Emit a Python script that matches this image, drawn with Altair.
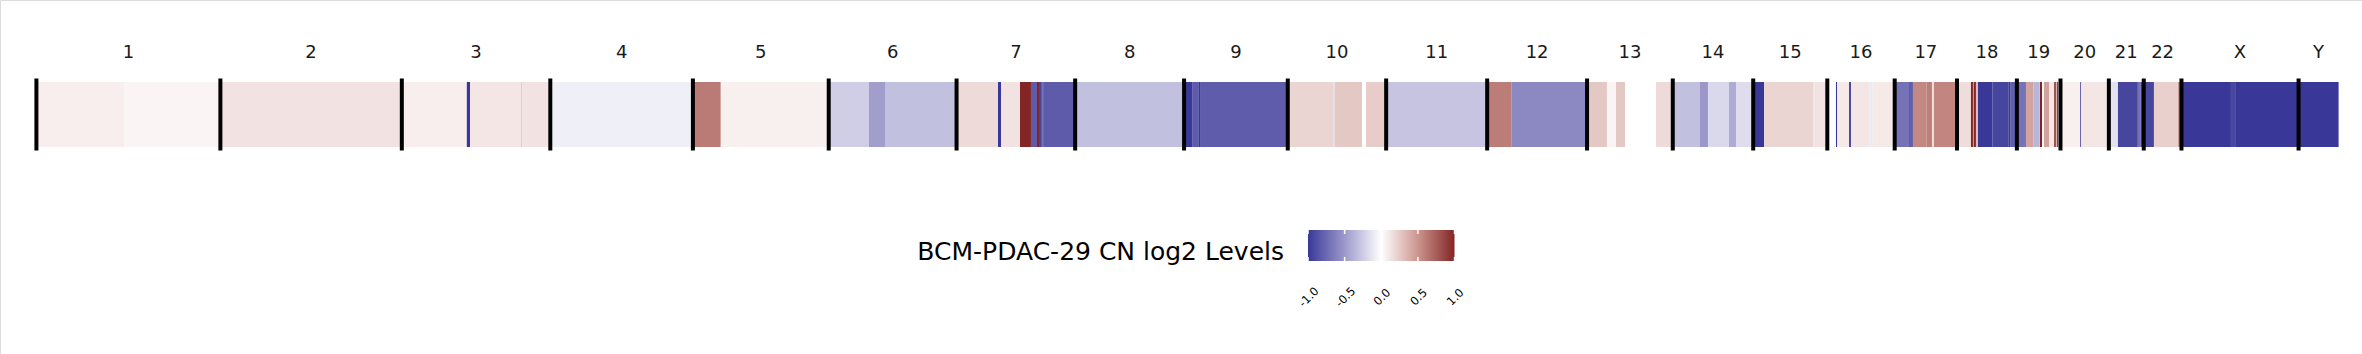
import altair as alt
import pandas as pd

# Chromosomes (cumulative genome start, Mb)
chrom_names = ["1", "2", "3", "4", "5", "6", "7", "8", "9", "10", "11", "12",
               "13", "14", "15", "16", "17", "18", "19", "20", "21", "22", "X", "Y"]
chrom_starts = [0, 246.8, 490.2, 689.4, 880.7, 1062.9, 1234.4, 1393.5, 1539.6,
                1678.7, 1810.7, 1946.2, 2080.2, 2195.2, 2303.1, 2402.5, 2492.9,
                2576.5, 2656.8, 2715.3, 2780.2, 2827.0, 2877.6, 3034.7]
genome_end = 3088.4

# Copy-number segments (genome Mb) and log2 levels
seg_start = [0, 118.1, 246.8, 490.2, 577.4, 581.7, 650.4, 651.7, 689.4, 880.7,
             918.1, 1062.9, 1116.8, 1138.4, 1234.4, 1290.0, 1294.0, 1319.5, 1334.2, 1342.3,
             1345.0, 1347.7, 1349.9, 1351.3, 1393.5, 1539.6, 1550.4, 1558.7, 1561.0, 1678.7,
             1739.4, 1741.8, 1783.6, 1810.7, 1946.2, 1978.6, 2080.2, 2106.9, 2119.0, 2172.7,
             2195.2, 2231.2, 2242.4, 2270.6, 2280.0, 2303.1, 2317.8, 2383.7, 2385.0, 2414.1,
             2415.5, 2431.6, 2434.3, 2458.8, 2463.4, 2492.9, 2512.1, 2517.4, 2535.8, 2542.9,
             2545.6, 2576.5, 2595.2, 2597.9, 2599.3, 2601.9, 2604.6, 2624.3, 2645.3, 2648.5,
             2656.8, 2669.0, 2678.8, 2686.9, 2687.8, 2690.5, 2693.2, 2700.3, 2706.6, 2709.3,
             2710.2, 2712.3, 2715.3, 2741.5, 2742.8, 2780.2, 2792.4, 2819.1, 2822.6, 2840.7,
             2873.3, 2877.6, 2944.0, 2950.7, 3034.7]
seg_end = [118.1, 246.8, 490.2, 577.4, 581.7, 650.4, 651.7, 689.4, 880.7, 918.1,
           1062.9, 1116.8, 1138.4, 1234.4, 1290.0, 1294.0, 1319.5, 1334.2, 1342.3, 1345.0,
           1347.7, 1349.9, 1351.3, 1393.5, 1539.6, 1550.4, 1558.7, 1561.0, 1678.7, 1739.4,
           1741.8, 1778.3, 1810.7, 1946.2, 1978.6, 2080.2, 2106.9, 2119.0, 2131.1, 2195.2,
           2231.2, 2242.4, 2270.6, 2280.0, 2303.1, 2317.8, 2383.7, 2385.0, 2402.5, 2415.5,
           2431.6, 2434.3, 2458.8, 2463.4, 2492.9, 2512.1, 2517.4, 2535.8, 2542.9, 2545.6,
           2576.5, 2595.2, 2597.9, 2599.3, 2601.9, 2604.6, 2624.3, 2645.3, 2648.5, 2656.8,
           2669.0, 2678.8, 2686.9, 2687.8, 2690.5, 2693.2, 2700.3, 2706.6, 2709.3, 2710.2,
           2712.3, 2715.3, 2741.5, 2742.8, 2780.2, 2792.4, 2819.1, 2822.6, 2840.7, 2873.3,
           2877.6, 2944.0, 2950.7, 3034.7, 3088.4]
seg_value = [0.08, 0.05, 0.13, 0.08, -1.0, 0.12, -0.3, 0.13, -0.08, 0.62,
             0.07, -0.24, -0.48, -0.31, 0.17, -1.0, 0.13, 1.0, -0.82, 1.0,
             -0.93, -0.82, -1.0, -0.82, -0.31, -1.0, -0.82, -1.0, -0.81, 0.2,
             -0.15, 0.26, 0.24, -0.29, 0.61, -0.59, 0.26, 0.05, 0.26, 0.17,
             -0.31, -0.51, -0.19, -0.41, -0.17, -1.0, 0.2, -0.15, 0.13, -1.0,
             0.1, -0.9, 0.12, -0.1, 0.1, -0.7, -0.8, 0.56, 0.6, 0.15,
             0.57, 0.16, 1.0, 0.5, 1.0, 0.3, -1.0, -0.93, -1.0, -0.8,
             -0.7, 0.43, -0.36, 0.4, 1.0, 0.05, 0.44, 0.12, 0.8, 0.05,
             0.9, 0.08, 0.07, -0.8, 0.12, -0.14, -0.93, -0.7, -0.93, 0.22,
             0.6, -1.0, -0.92, -1.0, -1.0]

# Colour scale
color_domain = [-1.0, -0.5, 0.0, 0.5, 1.0]
color_range = ["#393898", "#9d99cb", "#ffffff", "#cc958e", "#832525"]

legend_title = "BCM-PDAC-29 CN log2 Levels"
legend_ticks = [-1.0, -0.5, 0.0, 0.5, 1.0]
legend_tick_labels = ["-1.0", "-0.5", "0.0", "0.5", "1.0"]

FONT = "DejaVu Sans"

segs = pd.DataFrame({"start": seg_start, "end": seg_end, "value": seg_value})
chrom_ends = chrom_starts[1:] + [genome_end]
chroms = pd.DataFrame({
    "name": chrom_names,
    "start": chrom_starts,
    "mid": [(a + b) / 2 for a, b in zip(chrom_starts, chrom_ends)],
})

gx = alt.Scale(domain=[0, genome_end], range=[36.4, 2338.6], nice=False, zero=False)
lx = alt.Scale(domain=[-1, 1], range=[1308, 1454.5], nice=False, zero=False)

cscale = alt.Scale(domain=color_domain, range=color_range, clamp=True, interpolate="rgb")

seg_layer = alt.Chart(segs).mark_rect(strokeWidth=0).encode(
    x=alt.X("start:Q", scale=gx, axis=None),
    x2="end:Q",
    y=alt.value(82),
    y2=alt.value(147),
    color=alt.Color("value:Q", scale=cscale, legend=None),
)

rule_layer = alt.Chart(chroms).mark_rule(color="black", strokeWidth=4).encode(
    x=alt.X("start:Q", scale=gx, axis=None),
    y=alt.value(78.5),
    y2=alt.value(150.5),
)

label_layer = alt.Chart(chroms).mark_text(
    font=FONT, fontSize=18, color="#1a1a1a", baseline="alphabetic", align="center"
).encode(
    x=alt.X("mid:Q", scale=gx, axis=None),
    y=alt.value(57.5),
    text="name:N",
)

grad = alt.Gradient(
    gradient="linear",
    stops=[alt.GradientStop(color=c, offset=(d + 1) / 2) for d, c in zip(color_domain, color_range)],
    x1=0, x2=1, y1=0, y2=0,
)

leg_df = pd.DataFrame({"lo": [legend_ticks[0]], "hi": [legend_ticks[-1]], "title": [legend_title]})
tick_df = pd.DataFrame({"t": legend_ticks, "label": legend_tick_labels})

leg_rect = alt.Chart(leg_df).mark_rect(color=grad, strokeWidth=0).encode(
    x=alt.X("lo:Q", scale=lx, axis=None),
    x2="hi:Q",
    y=alt.value(230),
    y2=alt.value(261),
)

tick_top = alt.Chart(tick_df).mark_rule(color="white", strokeWidth=1.5).encode(
    x=alt.X("t:Q", scale=lx, axis=None),
    y=alt.value(230),
    y2=alt.value(234),
)
tick_bot = alt.Chart(tick_df).mark_rule(color="white", strokeWidth=1.5).encode(
    x=alt.X("t:Q", scale=lx, axis=None),
    y=alt.value(257),
    y2=alt.value(261),
)

tick_labels = alt.Chart(tick_df).mark_text(
    font=FONT, fontSize=11.5, color="black", angle=315, align="center", baseline="middle", dx=2
).encode(
    x=alt.X("t:Q", scale=lx, axis=None),
    y=alt.value(299),
    text="label:N",
)

title_layer = alt.Chart(leg_df).mark_text(
    font=FONT, fontSize=25, color="black", align="right", baseline="alphabetic", dx=-24
).encode(
    x=alt.X("lo:Q", scale=lx, axis=None),
    y=alt.value(260),
    text="title:N",
)

chart = alt.layer(
    seg_layer, rule_layer, label_layer, leg_rect, tick_top, tick_bot, tick_labels, title_layer
).resolve_scale(x="independent").properties(
    width=2362, height=354, padding=0, autosize=alt.AutoSizeParams(type="none")
).configure_view(stroke=None).configure(background="white")

chart.save("out.html", embed_options={"renderer": "svg", "actions": False})
